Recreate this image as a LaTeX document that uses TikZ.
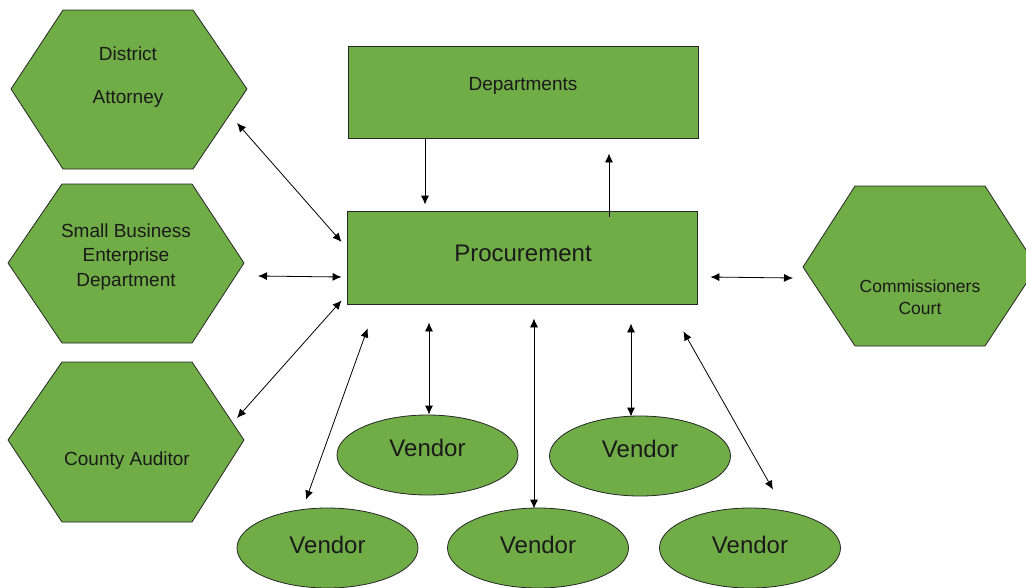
\documentclass[tikz,border=0pt]{standalone}
\usepackage{fontspec}
\setmainfont{Liberation Sans}
\usetikzlibrary{arrows.meta,shapes.geometric,calc}
\definecolor{boxgreen}{HTML}{70AD47}
\definecolor{edgegray}{HTML}{262626}
\definecolor{txtgray}{HTML}{1A1A1A}
\tikzset{
  hexbox/.style={fill=boxgreen, draw=edgegray, line width=0.8pt, line join=miter},
  rectbox/.style={rectangle, fill=boxgreen, draw=edgegray, line width=0.8pt, inner sep=0pt},
  vendorbox/.style={ellipse, fill=boxgreen, draw=edgegray, line width=0.8pt, inner sep=0pt,
    minimum width=181pt, minimum height=80pt, text depth=14pt, font=\fontsize{24}{28}\selectfont, text=txtgray},
  lowvendor/.style={vendorbox, text depth=6pt},
  hextext/.style={align=center, text=txtgray, inner sep=0pt},
  link/.style={draw=black, line width=0.8pt, {Latex[length=9pt,width=8pt]}-{Latex[length=9pt,width=8pt]}},
  onelink/.style={draw=black, line width=0.8pt, -{Latex[length=9pt,width=8pt]}}
}
\begin{document}
\begin{tikzpicture}[x=1pt,y=-1pt]
\useasboundingbox (0,0) rectangle (1026,587);
\clip (0,0) rectangle (1026,587);

% hexagons
\draw[hexbox] (11,89) coordinate (da-w) -- (63,10) -- (193,10) -- (247,89) coordinate (da-e) -- (193,169) -- (63,169) -- cycle;
\draw[hexbox] (8,263) coordinate (sbe-w) -- (62,184) -- (192,184) -- (244,263) coordinate (sbe-e) -- (192,343) -- (62,343) -- cycle;
\draw[hexbox] (8,440) coordinate (ca-w) -- (62,362) -- (192,362) -- (244,440) coordinate (ca-e) -- (192,522) -- (62,522) -- cycle;
\draw[hexbox] (803,267) coordinate (cc-w) -- (855,186) -- (985,186) -- (1037,267) coordinate (cc-e) -- (985,346) -- (855,346) -- cycle;

\node[hextext, font=\fontsize{19}{43}\selectfont] (da) at (128,77) {District\\Attorney};
\node[hextext, font=\fontsize{19}{24.5}\selectfont] (sbe) at (126,257) {Small Business\\Enterprise\\Department};
\node[hextext, font=\fontsize{19}{24}\selectfont] (ca) at (127,461) {County Auditor};
\node[hextext, font=\fontsize{17.5}{22.5}\selectfont] (cc) at (920,297) {Commissioners\\Court};

% rectangles
\node[rectbox, minimum width=350pt, minimum height=92pt] (dept) at (523,92) {};
\node[text=txtgray, font=\fontsize{19}{24}\selectfont, inner sep=0pt] (deptlbl) at (523,86) {Departments};
\node[rectbox, minimum width=350pt, minimum height=93pt] (proc) at (522.5,257.5) {};
\node[text=txtgray, font=\fontsize{24}{28}\selectfont, inner sep=0pt] (proclbl) at (523,253) {Procurement};

% vendors
\node[lowvendor] (v1) at (327.5,548) {Vendor};
\node[vendorbox] (v2) at (427.5,455) {Vendor};
\node[lowvendor] (v3) at (538,548) {Vendor};
\node[vendorbox] (v4) at (640,456) {Vendor};
\node[lowvendor] (v5) at (750,548) {Vendor};

% connectors
\draw[onelink] ([shift={(-98,0)}]dept.south) -- ([shift={(-97.5,-6)}]proc.north);
\draw[onelink] ([shift={(86.5,6)}]proc.north) -- ([shift={(86,15)}]dept.south);

\draw[link] ([shift={(-10,34)}]da-e) -- ([shift={(-5.5,-15.5)}]proc.west);
\draw[link] ([shift={(14,13)}]sbe-e) -- ([shift={(-5.5,19.5)}]proc.west);
\draw[link] ([shift={(-7,-22)}]ca-e) -- ([shift={(-5.5,-4)}]proc.south west);
\draw[link] ([shift={(12.5,19.5)}]proc.east) -- ([shift={(-10,11)}]cc-w);

\draw[link] ([shift={(20.5,24)}]proc.south west) -- ([shift={(-21.5,-8)}]v1.north);
\draw[link] ([shift={(-93.5,18)}]proc.south) -- ([shift={(1.5,0)}]v2.north);
\draw[link] ([shift={(11.5,14)}]proc.south) -- ([shift={(-4,1)}]v3.north);
\draw[link] ([shift={(108.5,19)}]proc.south) -- ([shift={(-9,1)}]v4.north);
\draw[link] ([shift={(-14.5,27)}]proc.south east) -- ([shift={(23,-18)}]v5.north);
\end{tikzpicture}
\end{document}
